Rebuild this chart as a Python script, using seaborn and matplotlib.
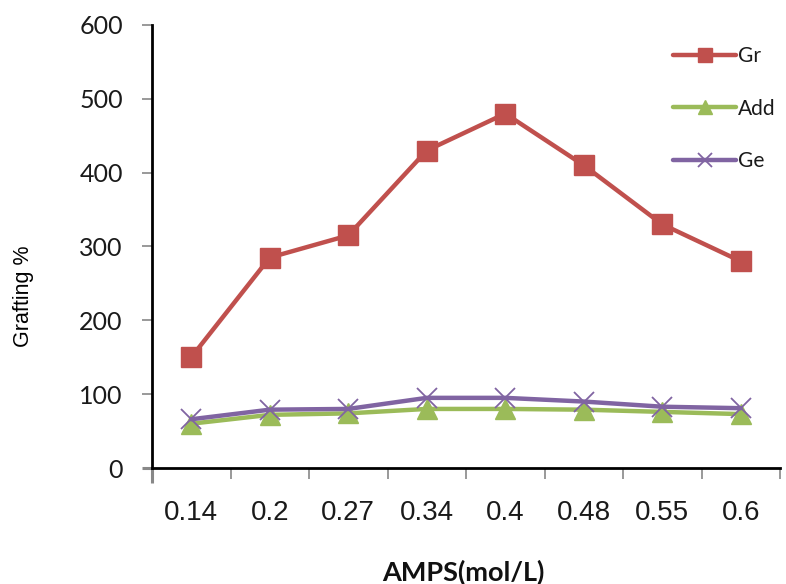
import matplotlib
matplotlib.use("Agg")
import matplotlib.pyplot as plt
import seaborn as sns
import pandas as pd
from matplotlib.ticker import FixedLocator

categories = ["0.14", "0.2", "0.27", "0.34", "0.4", "0.48", "0.55", "0.6"]
gr = [150, 285, 315, 430, 480, 410, 330, 280]
add = [60, 72, 74, 80, 80, 79, 76, 73]
ge = [66, 79, 80, 95, 95, 90, 83, 81]
series_names = ["Gr", "Add", "Ge"]
yticks = [0, 100, 200, 300, 400, 500, 600]

sns.set_theme(style="white")
plt.rcParams['font.family'] = ['Lato', 'DejaVu Sans']

W, H = 786, 584
fig = plt.figure(figsize=(W / 100, H / 100), dpi=100)
ax = fig.add_axes([152 / W, (H - 468) / H, 628 / W, 443 / H])

colors = {"Gr": "#C0504D", "Add": "#9BBB59", "Ge": "#8064A2"}
markers = {"Gr": "s", "Add": "^", "Ge": "x"}
for name, vals in zip(series_names, [gr, add, ge]):
    d = pd.DataFrame({"AMPS": categories, "val": vals})
    sns.lineplot(data=d, x="AMPS", y="val", ax=ax, color=colors[name],
                 marker=markers[name], markersize=15 if name == "Gr" else 14,
                 markeredgewidth=1.0 if name != "Ge" else 1.3,
                 markeredgecolor=colors[name], linewidth=3.2, sort=False, label=name)

ax.set_xlim(-0.5, len(categories) - 0.5)
ax.set_ylim(0, 600)
ax.set_yticks(yticks)
ax.set_yticklabels([str(v) for v in yticks], fontsize=18, color='#1a1a1a')
ax.tick_params(axis='y', length=7, width=1.2, direction='out', left=True,
               color='#888888', pad=14)
ax.tick_params(axis='x', which='major', length=0, pad=23)
for lbl in ax.get_xticklabels():
    lbl.set_fontfamily(['Liberation Sans'])
    lbl.set_fontsize(20)
    lbl.set_color('#1a1a1a')
ax.xaxis.set_minor_locator(FixedLocator([i - 0.5 for i in range(len(categories) + 1)]))
ax.tick_params(axis='x', which='minor', length=8, width=1.2, bottom=True,
               direction='out', color='#888888')
ax.xaxis.get_minor_ticks()[0].tick1line.set_color('black')
ax.xaxis.get_minor_ticks()[0].tick1line.set_markeredgewidth(2.2)
ax.xaxis.get_minor_ticks()[0].tick1line.set_markersize(11)
ax.yaxis.get_major_ticks()[0].tick1line.set_color('black')
ax.yaxis.get_major_ticks()[0].tick1line.set_markeredgewidth(2.2)

for s in ["top", "right"]:
    ax.spines[s].set_visible(False)
for s in ["left", "bottom"]:
    ax.spines[s].set_color("black")
    ax.spines[s].set_linewidth(2.0)

ax.set_ylabel("Grafting %", fontsize=15.5, family=['Liberation Sans'], color='black')
ax.yaxis.set_label_coords((24 - 152) / 628, (468 - 296) / 443)
ax.set_xlabel("AMPS(mol/L)", fontsize=19.5, fontweight='bold', color='#111111')
ax.xaxis.set_label_coords((463 - 152) / 628, (468 - 572) / 443)
ax.xaxis.label.set_va('center')
ax.yaxis.label.set_va('center')

leg = ax.legend(loc="upper left", bbox_to_anchor=(663 / W, 1 - 36 / H),
                bbox_transform=fig.transFigure, frameon=False, borderpad=0,
                fontsize=15, labelspacing=1.55, handlelength=3.0, handletextpad=0.1)
for line in leg.get_lines():
    line.set_linewidth(3.2)
    line.set_markersize(10)
for t in leg.get_texts():
    t.set_color('#1a1a1a')

fig.savefig("out.png", dpi=100)
